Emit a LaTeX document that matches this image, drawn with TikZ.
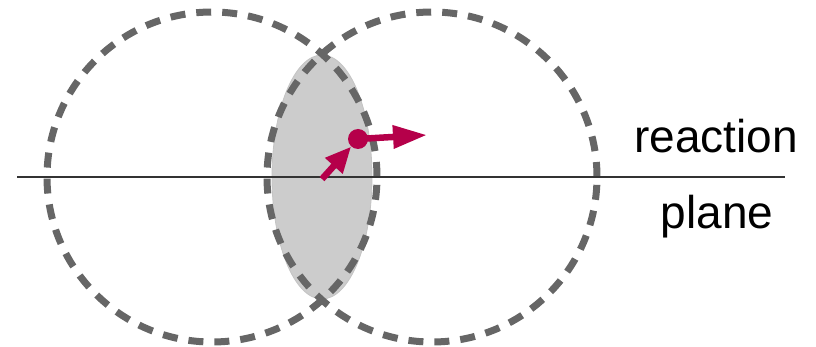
\documentclass[tikz,border=0pt]{standalone}
\usepackage{fontspec}
\setmainfont{Liberation Sans}
\usetikzlibrary{arrows.meta}
\definecolor{dashgrey}{HTML}{666666}
\definecolor{lensgrey}{HTML}{CCCCCC}
\definecolor{lensedge}{HTML}{C4C4C4}
\definecolor{planeline}{HTML}{333333}
\definecolor{crimson}{HTML}{B5004A}
\tikzset{
  orbit/.style={draw=dashgrey, line width=7pt, dash pattern=on 15pt off 11pt},
  lens/.style={fill=lensgrey, draw=lensedge, line width=0.8pt},
  planeln/.style={draw=planeline, line width=1.2pt},
  label/.style={font=\fontsize{46}{55}\selectfont, inner sep=0pt, anchor=base},
  momentum/.style={draw=crimson, line width=6.5pt, -{Triangle[length=26pt,width=22pt]}},
  vertex/.style={circle, fill=crimson, inner sep=0pt, minimum size=20pt}
}
\begin{document}
\begin{tikzpicture}[x=1pt,y=-1pt]
\useasboundingbox (0,0) rectangle (816,347);
\fill[lens] (322,177) ellipse[x radius=50pt, y radius=122pt];
\draw[orbit] (212,177) circle[radius=165pt];
\draw[orbit] (432,177) circle[radius=165pt];
\coordinate (pl) at (17,177);
\coordinate (pr) at (785,177);
\draw[planeln] (pl) -- (pr);
\node[vertex] (dot) at (358,139) {};
\coordinate (tail) at (322,179);
\coordinate (tip) at (427,135);
\draw[momentum] (tail) -- (dot);
\draw[momentum, -{Triangle[length=34pt,width=22pt]}] (dot.center) -- (tip);
\node[label] (reac) at (716,153) {reaction};
\node[label] (plane) at (717,229) {plane};
\end{tikzpicture}
\end{document}
